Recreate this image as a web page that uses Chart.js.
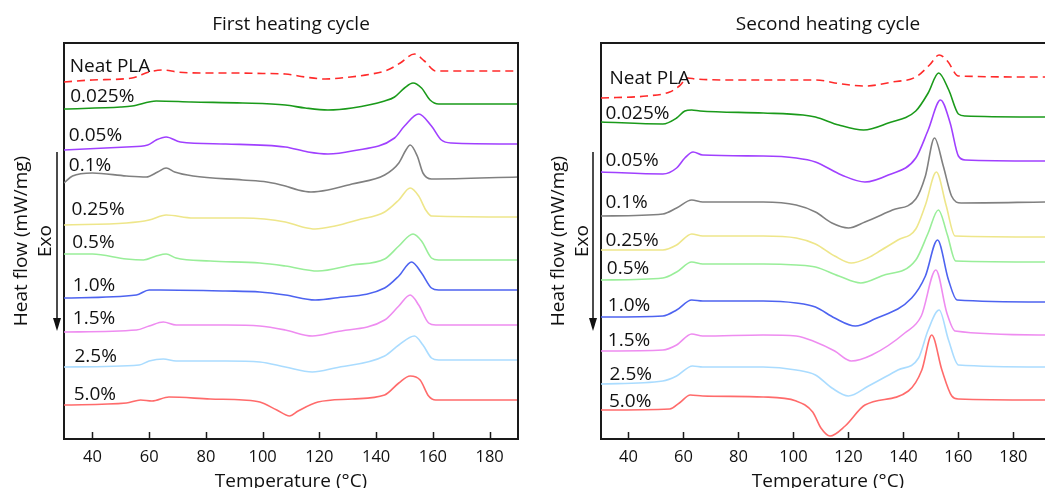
<!DOCTYPE html>
<html>
<head>
<meta charset="utf-8">
<script src="https://cdn.jsdelivr.net/npm/chart.js@4.4.1/dist/chart.umd.min.js"></script>
<style>
  body { margin: 0; background: #fff; }
  #wrap { position: relative; width: 1045px; height: 488px; overflow: hidden; }
  canvas { position: absolute; top: 0; }
</style>
</head>
<body>
<div id="wrap">
  <canvas id="first" width="530" height="488" style="left:0"></canvas>
  <canvas id="second" width="520" height="488" style="left:525px"></canvas>
</div>
<script>
// DSC traces, [temperature (°C), heat flow offset (a.u.)]
const first_neat = [[30,35.7],[40,35.9],[54,36.1],[60,36.7],[65,36.9],[70,36.7],[78,36.6],[90,36.6],[100,36.55],[108,36.5],[115,36.2],[122,36.0],[131,36.2],[138.5,36.5],[144,36.9],[148.5,37.6],[153.5,38.5],[157,37.8],[161,36.8],[190,36.8]];
const first_0025 = [[30,33.0],[50,33.2],[54,33.3],[62.5,33.8],[75,33.7],[93,33.6],[108,33.4],[115,33.1],[123,32.9],[131.5,33.1],[143,33.8],[146.5,34.2],[150,35.1],[153,35.6],[156,35.1],[159,33.9],[162,33.5],[190,33.5]];
const first_005 = [[30,28.9],[52,29.2],[59.5,29.4],[62.5,29.9],[66,30.2],[71,29.7],[87,29.5],[108,29.2],[116,28.7],[123,28.5],[131.5,28.8],[146.5,30.1],[150,31.3],[155,32.5],[159.5,31.3],[163,29.9],[166.5,29.6],[190,29.5]];
const first_01 = [[30,25.6],[33,26.3],[40,26.6],[52,26.3],[59,26.2],[63,26.7],[66,27.1],[69,26.7],[75.5,26.3],[93,25.9],[101.5,25.7],[108,25.3],[112.5,24.9],[117,24.7],[123,24.9],[131.5,25.5],[143,26.4],[148,27.6],[150.5,28.9],[152,29.4],[154.5,28.3],[156.5,26.6],[159.5,26.0],[190,26.2]];
const first_025 = [[30,21.4],[52,21.6],[60,21.9],[66,22.4],[75.5,22.1],[93,22.1],[108,21.7],[114,21.2],[118.5,21.0],[125.5,21.3],[133.5,21.9],[143,22.7],[148,23.9],[152,25.1],[155,24.3],[157.5,22.9],[159.5,22.3],[190,22.2]];
const first_05 = [[30,18.5],[40,18.5],[52,18.0],[58,17.9],[62.5,18.3],[66,18.5],[69.5,18.1],[81.5,17.8],[99,17.6],[108,17.3],[119.5,16.8],[131.5,17.4],[143,18.0],[148,19.3],[153,20.5],[156,19.8],[159.5,18.1],[162,17.9],[190,17.9]];
const first_10 = [[30,14.1],[55.5,14.4],[60,14.9],[64,14.9],[87,14.8],[99,14.7],[108,14.4],[118.5,13.9],[125.5,14.1],[143,15.1],[148,16.3],[152.5,17.7],[156,16.6],[159.5,15.1],[162,14.9],[190,14.9]];
const first_15 = [[30,10.7],[55.5,10.9],[60,11.3],[65,11.7],[69.5,11.4],[87,11.4],[99,11.3],[108,10.9],[117.5,10.3],[125.5,10.7],[143,11.9],[148,13.3],[152,14.4],[155,13.4],[158.5,11.6],[161,11.4],[190,11.4]];
const first_25 = [[30,7.2],[56.5,7.4],[60,7.8],[65,8.0],[69.5,7.8],[87,7.8],[99,7.7],[108,7.2],[117.5,6.7],[125.5,7.1],[143,8.3],[148,9.4],[153.5,10.3],[156.5,9.4],[159.5,8.1],[162,7.9],[190,7.9]];
const first_50 = [[30,3.4],[52,3.6],[57,3.9],[61,3.8],[67,4.2],[81.5,4.0],[93,3.9],[99,3.7],[105,2.9],[109.5,2.3],[112.5,2.8],[119.5,3.7],[131.5,4.0],[143,4.4],[148,5.6],[152,6.3],[155.5,5.9],[158.5,4.3],[161,3.9],[190,3.9]];

const second_neat = [[30,34.1],[46.5,34.3],[55,34.7],[58.5,35.3],[61.5,36.1],[64.5,36.0],[77,35.9],[101,35.9],[108,35.9],[117.5,35.5],[126,35.3],[136,35.7],[144.5,36.2],[149.5,37.4],[153,38.4],[156,37.8],[160,36.3],[191.5,36.2]];
const second_0025 = [[30,31.7],[52.5,31.5],[57.5,32.1],[60.5,32.8],[63,32.9],[66,32.8],[89,32.6],[103.5,32.4],[108,32.2],[116.5,31.4],[125.5,30.9],[134.5,31.6],[144.5,32.8],[149,34.6],[152.8,36.6],[156.5,34.9],[160,32.5],[162.5,32.3],[191.5,32.2]];
const second_005 = [[30,26.7],[52.5,26.5],[57.5,27.1],[60.5,28.1],[63.5,28.7],[67,28.4],[89,28.3],[101,28.1],[108,27.7],[117.5,26.4],[126,25.7],[134.5,26.4],[144.5,28.1],[149,30.9],[153.5,33.9],[157,31.6],[160,28.3],[162.5,27.9],[191.5,27.8]];
const second_01 = [[30,22.3],[52.5,22.5],[57.5,23.1],[63,23.9],[67,23.7],[89,23.7],[101,23.4],[108,22.7],[114,21.6],[120,21.1],[126,21.7],[136,22.9],[144.5,24.0],[148,26.3],[151.3,30.1],[154.5,27.3],[157.5,24.3],[161,23.6],[191.5,23.7]];
const second_025 = [[30,18.9],[52.5,18.9],[57.5,19.4],[63,20.5],[67,20.3],[89,20.3],[101,20.1],[108,19.5],[115,18.3],[121,17.6],[127,18.1],[132,18.9],[138,19.9],[144.5,21.0],[148,23.4],[152,26.7],[155.5,23.4],[158.8,20.3],[191.5,20.2]];
const second_05 = [[30,15.9],[52.5,16.1],[57.5,16.7],[63,17.7],[67,17.5],[89,17.5],[101,17.4],[108,17.2],[116.5,16.3],[124.5,15.6],[132,16.3],[144.5,17.9],[149,20.6],[152.7,22.9],[156,20.4],[159,17.8],[191.5,17.7]];
const second_10 = [[30,12.2],[52.5,12.3],[57.5,12.9],[63,13.9],[67,13.8],[89,13.8],[101,13.6],[108,13.2],[115,12.1],[122.5,11.3],[129.5,12.0],[143,14.1],[148,16.3],[152.4,19.9],[156.4,15.9],[159.5,13.9],[191.5,13.7]];
const second_15 = [[30,8.8],[52.5,8.9],[57.5,9.4],[63,10.5],[67,10.3],[89,10.4],[101,10.3],[108,9.7],[115,8.8],[121,7.8],[128.5,8.4],[140.5,10.6],[146.5,12.3],[151.8,16.9],[155.8,12.6],[158.8,10.8],[191.5,10.4]];
const second_25 = [[30,5.5],[52.5,5.8],[57.5,6.3],[63.3,7.3],[67,7.2],[89,7.2],[101,6.9],[108,6.4],[114,5.1],[120,4.3],[127.3,5.3],[138,6.9],[145.5,8.1],[149,10.9],[153,12.9],[156.4,9.9],[160,7.4],[191.5,7.2]];
const second_50 = [[30,2.9],[55,3.0],[58.5,3.6],[62.5,4.4],[67,4.3],[89,4.2],[101,3.8],[107,2.7],[110,1.1],[113.3,0.3],[118.8,1.3],[126,3.4],[141.8,4.8],[146.7,6.9],[150.3,10.4],[154,6.9],[157.6,4.3],[160,4.0],[191.5,3.9]];

const sampleNames = ["Neat PLA", "0.025%", "0.05%", "0.1%", "0.25%", "0.5%", "1.0%", "1.5%", "2.5%", "5.0%"];
const xTicks = [40, 60, 80, 100, 120, 140, 160, 180];

const colors = ["#ff2a2a", "#1a9a1a", "#a040ff", "#808080", "#eee68a", "#99ee99", "#4d63f0", "#ee8cf0", "#aadcff", "#ff6b6b"];

// where each sample name sits, in data units [°C, a.u.]
const firstLabelAt = [[32.0,37.2],[32.2,34.2],[31.7,30.3],[31.7,27.3],[32.6,22.9],[32.9,19.6],[33.1,15.3],[33.1,12.0],[33.7,8.2],[33.4,4.4]];
const secondLabelAt = [[33.1,36.0],[31.6,32.5],[31.6,27.8],[31.6,23.6],[31.6,19.8],[32.1,17.0],[32.5,13.3],[32.5,9.8],[33.1,6.4],[32.9,3.7]];

Chart.defaults.font.family = '"Open Sans", sans-serif';
Chart.defaults.color = '#111';

const decor = {
    id: 'decor',
    afterDraw: function(chart, args, o) {
        const ctx = chart.ctx;
        const a = chart.chartArea;
        const xs = chart.scales.x, ys = chart.scales.y;
        ctx.save();

        // frame top (+ right)
        ctx.strokeStyle = '#1a1a1a';
        ctx.lineWidth = 2;
        ctx.beginPath();
        ctx.moveTo(a.left, a.top);
        ctx.lineTo(o.rightBorder ? a.right : chart.width, a.top);
        if (o.rightBorder) ctx.lineTo(a.right, a.bottom);
        ctx.stroke();

        // inward ticks
        ctx.lineWidth = 1.5;
        ctx.beginPath();
        xTicks.forEach(function(t) {
            const px = Math.round(xs.getPixelForValue(t)) + 0.5;
            ctx.moveTo(px, a.bottom);
            ctx.lineTo(px, a.bottom - 7);
        });
        ctx.stroke();

        ctx.fillStyle = '#111';
        ctx.font = '19px "Open Sans"';
        ctx.textBaseline = 'middle';
        ctx.textAlign = 'left';
        sampleNames.forEach(function(s, i) {
            ctx.fillText(s, xs.getPixelForValue(o.labelAt[i][0]), ys.getPixelForValue(o.labelAt[i][1]));
        });

        const cx = (a.left + a.right) / 2 + o.titleShift;
        ctx.textAlign = 'center';
        ctx.textBaseline = 'alphabetic';
        ctx.fillText(o.title, cx, 29.5);
        ctx.fillText('Temperature (°C)', cx, 486.5);

        // y title, Exo and arrow
        const cy = (a.top + a.bottom) / 2;
        ctx.save();
        ctx.translate(a.left - 37, cy);
        ctx.rotate(-Math.PI / 2);
        ctx.fillText('Heat flow (mW/mg)', 0, 0);
        ctx.restore();
        ctx.save();
        ctx.translate(a.left - 13, cy);
        ctx.rotate(-Math.PI / 2);
        ctx.fillText('Exo', 0, 0);
        ctx.restore();

        const ax = a.left - o.arrowGap;
        ctx.strokeStyle = '#111';
        ctx.lineWidth = 1.5;
        ctx.beginPath();
        ctx.moveTo(ax, 152);
        ctx.lineTo(ax, 320);
        ctx.stroke();
        ctx.beginPath();
        ctx.moveTo(ax - 4, 318);
        ctx.lineTo(ax + 4, 318);
        ctx.lineTo(ax, 331);
        ctx.closePath();
        ctx.fill();

        ctx.restore();
    }
};

function makePanel(id, series, xMax, yAxisWidth, padRight, title, labelAt, rightBorder, arrowGap, titleShift) {
    const datasets = series.map(function(pts, i) {
        return {
            label: sampleNames[i],
            data: pts.map(function(p) { return {x: p[0], y: p[1]}; }),
            borderColor: colors[i],
            borderWidth: 1.6,
            borderDash: i === 0 ? [8, 5] : [],
            pointRadius: 0,
            cubicInterpolationMode: 'monotone',
            fill: false
        };
    });

    new Chart(document.getElementById(id).getContext('2d'), {
        type: 'line',
        data: {datasets: datasets},
        options: {
            responsive: false,
            animation: false,
            layout: {padding: {top: 43, right: padRight, left: 0, bottom: 0}},
            plugins: {
                legend: {display: false},
                tooltip: {enabled: false},
                decor: {title: title, labelAt: labelAt, rightBorder: rightBorder, arrowGap: arrowGap, titleShift: titleShift}
            },
            scales: {
                x: {
                    type: 'linear',
                    min: 30,
                    max: xMax,
                    grid: {display: false, drawTicks: false},
                    border: {display: true, color: '#1a1a1a', width: 2},
                    ticks: {font: {size: 16.5}, color: '#111', padding: 8, maxRotation: 0},
                    afterBuildTicks: function(s) { s.ticks = xTicks.map(function(v) { return {value: v}; }); },
                    afterFit: function(s) { s.height = 49; }
                },
                y: {
                    min: 0,
                    max: 39.6,
                    grid: {display: false, drawTicks: false},
                    border: {display: true, color: '#1a1a1a', width: 2},
                    ticks: {display: false},
                    afterFit: function(s) { s.width = yAxisWidth; }
                }
            }
        },
        plugins: [decor]
    });
}

makePanel('first',
    [first_neat, first_0025, first_005, first_01, first_025, first_05, first_10, first_15, first_25, first_50],
    190, 64, 12, 'First heating cycle', firstLabelAt, true, 7, 0);

makePanel('second',
    [second_neat, second_0025, second_005, second_01, second_025, second_05, second_10, second_15, second_25, second_50],
    191.5, 76, 0, 'Second heating cycle', secondLabelAt, false, 8, 5);
</script>
</body>
</html>
